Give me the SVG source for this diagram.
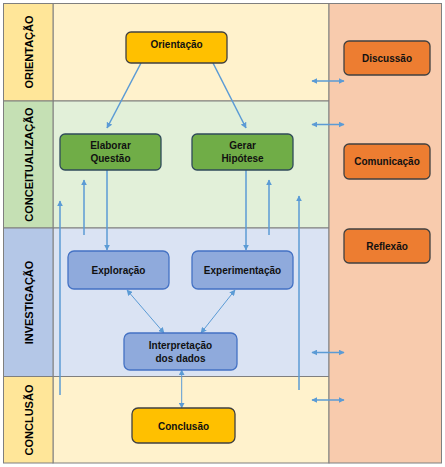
<svg xmlns="http://www.w3.org/2000/svg" width="445" height="467" viewBox="0 0 445 467">
<defs>
<style>
.lbl{font-family:"Liberation Sans",Arial,sans-serif;font-weight:bold;font-size:11px;fill:#000;text-anchor:middle;dominant-baseline:central}
.t{font-family:"Liberation Sans",Arial,sans-serif;font-weight:bold;font-size:10px;fill:#111;text-anchor:middle;dominant-baseline:central}
.band{stroke:#7f7f7f;stroke-width:1}
.c{stroke:#5b9bd5;stroke-width:1.5;fill:none}
.c2{stroke:#5b9bd5;stroke-width:1;fill:none}
</style>
<marker id="ah" viewBox="0 0 10 10" refX="9" refY="5" markerWidth="6" markerHeight="6" orient="auto-start-reverse" markerUnits="userSpaceOnUse">
<path d="M0,0 L10,5 L0,10 Z" fill="#5b9bd5"/>
</marker>
</defs>
<rect x="0" y="0" width="445" height="467" fill="#ffffff"/>
<g id="bands">
<rect class="band" x="53" y="3.5" width="276" height="97.5" fill="#fff2cc"/>
<rect class="band" x="53" y="101" width="276" height="127" fill="#e2f0d9"/>
<rect class="band" x="53" y="228" width="276" height="148.5" fill="#dae3f3"/>
<rect class="band" x="53" y="376.5" width="276" height="86.5" fill="#fff2cc"/>
<rect class="band" x="3.5" y="3.5" width="49.5" height="97.5" fill="#ffe699"/>
<rect class="band" x="3.5" y="101" width="49.5" height="127" fill="#c5e0b4"/>
<rect class="band" x="3.5" y="228" width="49.5" height="148.5" fill="#b4c7e7"/>
<rect class="band" x="3.5" y="376.5" width="49.5" height="86.5" fill="#ffe699"/>
<rect class="band" x="329" y="3.5" width="112.5" height="459.5" fill="#f8cbad"/>
<text class="lbl" transform="translate(29,52) rotate(-90)">ORIENTAÇÃO</text>
<text class="lbl" transform="translate(29,164.5) rotate(-90)">CONCEITUALIZAÇÃO</text>
<text class="lbl" transform="translate(29,302.5) rotate(-90)">INVESTIGAÇÃO</text>
<text class="lbl" transform="translate(29,420) rotate(-90)">CONCLUSÃO</text>
</g>
<g id="connectors">
<line class="c" x1="141" y1="63" x2="107" y2="128" marker-end="url(#ah)"/>
<line class="c" x1="213" y1="63" x2="246" y2="128" marker-end="url(#ah)"/>
<line class="c" x1="107" y1="170" x2="107" y2="250" marker-end="url(#ah)"/>
<line class="c" x1="246" y1="170" x2="246" y2="250" marker-end="url(#ah)"/>
<line class="c" x1="84" y1="235" x2="84" y2="180" marker-end="url(#ah)"/>
<line class="c" x1="269" y1="235" x2="269" y2="180" marker-end="url(#ah)"/>
<line class="c" x1="60" y1="395" x2="60" y2="201" marker-end="url(#ah)"/>
<line class="c" x1="299" y1="390" x2="299" y2="196" marker-end="url(#ah)"/>
<line class="c" x1="312" y1="81" x2="344" y2="81" marker-start="url(#ah)" marker-end="url(#ah)"/>
<line class="c" x1="312" y1="124.5" x2="344" y2="124.5" marker-start="url(#ah)" marker-end="url(#ah)"/>
<line class="c" x1="312" y1="352.5" x2="344" y2="352.5" marker-start="url(#ah)" marker-end="url(#ah)"/>
<line class="c" x1="312" y1="400" x2="344" y2="400" marker-start="url(#ah)" marker-end="url(#ah)"/>
<line class="c2" x1="127" y1="290" x2="164" y2="333" marker-start="url(#ah)" marker-end="url(#ah)"/>
<line class="c2" x1="235" y1="290" x2="201" y2="333" marker-start="url(#ah)" marker-end="url(#ah)"/>
<line class="c2" x1="181.7" y1="370" x2="181.7" y2="408" marker-start="url(#ah)" marker-end="url(#ah)"/>
</g>
<g id="orientacao">
<rect x="126" y="32" width="101" height="31" rx="5" fill="#ffc000" stroke="#404040" stroke-width="1.3"/>
<text class="t" x="176.5" y="44.5">Orientação</text>
</g>
<g id="discussao">
<rect x="344" y="41" width="86" height="34" rx="5" fill="#ed7d31" stroke="#404040" stroke-width="1.3"/>
<text class="t" x="387" y="58">Discussão</text>
</g>
<g id="elaborar">
<rect x="60" y="134" width="101" height="36" rx="5" fill="#70ad47" stroke="#2f4a5a" stroke-width="1.3"/>
<text class="t" x="110.5" y="145.5">Elaborar</text>
<text class="t" x="110.5" y="158">Questão</text>
</g>
<g id="gerar">
<rect x="192" y="134" width="101" height="36" rx="5" fill="#70ad47" stroke="#2f4a5a" stroke-width="1.3"/>
<text class="t" x="242.5" y="145.5">Gerar</text>
<text class="t" x="242.5" y="158">Hipótese</text>
</g>
<g id="comunicacao">
<rect x="344" y="144" width="86" height="35" rx="5" fill="#ed7d31" stroke="#404040" stroke-width="1.3"/>
<text class="t" x="387" y="161.5">Comunicação</text>
</g>
<g id="reflexao">
<rect x="344" y="229" width="86" height="34" rx="5" fill="#ed7d31" stroke="#404040" stroke-width="1.3"/>
<text class="t" x="387" y="246">Reflexão</text>
</g>
<g id="exploracao">
<rect x="68" y="251" width="101" height="38" rx="6" fill="#8faadc" stroke="#4472c4" stroke-width="1.3"/>
<text class="t" x="118.5" y="270">Exploração</text>
</g>
<g id="experimentacao">
<rect x="192" y="251" width="101" height="38" rx="6" fill="#8faadc" stroke="#4472c4" stroke-width="1.3"/>
<text class="t" x="242.5" y="270">Experimentação</text>
</g>
<g id="interpretacao">
<rect x="124" y="333" width="113" height="37" rx="6" fill="#8faadc" stroke="#4472c4" stroke-width="1.3"/>
<text class="t" x="180.5" y="345.5">Interpretação</text>
<text class="t" x="180.5" y="358.5">dos dados</text>
</g>
<g id="conclusao">
<rect x="132" y="408" width="103" height="35" rx="6" fill="#ffc000" stroke="#404040" stroke-width="1.3"/>
<text class="t" x="183.5" y="426">Conclusão</text>
</g>
</svg>
